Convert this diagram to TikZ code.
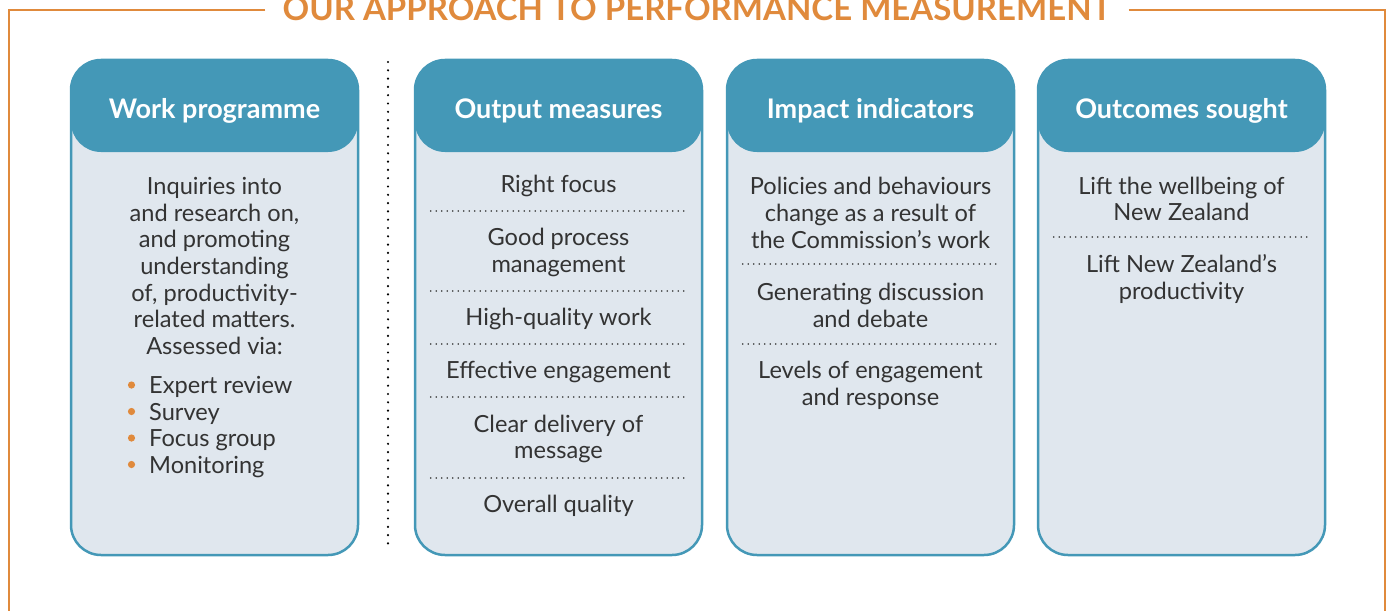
\documentclass[tikz,border=0pt]{standalone}
\usepackage{fontspec}
\setmainfont{Lato}
\usetikzlibrary{calc}

\definecolor{frameorange}{HTML}{E08A3C}
\definecolor{headteal}{HTML}{4498B7}
\definecolor{bodygrey}{HTML}{E0E7EE}
\definecolor{textgrey}{HTML}{333333}

\tikzset{
  frame/.style={draw=frameorange, line width=2pt},
  title/.style={text=frameorange, inner xsep=17pt, font=\fontsize{33}{36}\selectfont\bfseries},
  card/.style={draw=headteal, line width=2.5pt, fill=bodygrey, rounded corners=30pt,
    minimum width=287pt, minimum height=495pt, inner sep=0pt,
    path picture={\fill[headteal] (path picture bounding box.north west)
      rectangle ([yshift=-92pt]path picture bounding box.north east);}},
  head/.style={text=white, font=\fontsize{27}{30}\selectfont\bfseries},
  body/.style={text=textgrey, align=center, inner sep=0pt, font=\fontsize{23.6}{26.6}\selectfont},
  bullet/.style={fill=frameorange},
  sepline/.style={draw=textgrey, dash pattern=on 0pt off 5.5pt, line cap=round, line width=1.8pt},
  vdots/.style={draw=black, dash pattern=on 0pt off 8.3pt, line cap=round, line width=2.4pt}
}

\newcommand\sepat[2]{\draw[sepline] ($(#1.west |- 0,#2)+(17,0)$) -- ($(#1.east |- 0,#2)+(-19,0)$);}

\begin{document}
\begin{tikzpicture}[x=1pt, y=-1pt]
    \useasboundingbox (0,0) rectangle (1391,610);

    % Title and frame
    \node[title, anchor=base] (title) at (697,21) {OUR APPROACH TO PERFORMANCE MEASUREMENT};
    \draw[frame] (title.west |- 0,10) -- (9,10) -- (9,620);
    \draw[frame] (title.east |- 0,10) -- (1385,10) -- (1385,620);

    % Cards
    \node[card] (wp) at (214.5,307.5) {};
    \node[card] (om) at (558.5,307.5) {};
    \node[card] (ii) at (870.5,307.5) {};
    \node[card] (os) at (1181.5,307.5) {};

    % Card headings
    \node[head] (wphead) at (214.5,111) {Work programme};
    \node[head] (omhead) at (558.5,111) {Output measures};
    \node[head] (iihead) at (870.5,111) {Impact indicators};
    \node[head] (oshead) at (1181.5,111) {Outcomes sought};

    % Divider between work programme and measures
    \draw[vdots] (388,62) -- (388,550);

    % Work programme
    \node[body] (wptext) at (214.5,266) {Inquiries into\\and research on,\\and promoting\\understanding\\of, productivity-\\related matters.\\Assessed via:};
    \node[body, align=left, anchor=west] (wplist) at (149,427) {Expert review\\Survey\\Focus group\\Monitoring};
    \foreach \y in {385,411.5,438,464.5}
        \fill[bullet] (131.5,\y) circle (3.6pt);

    % Output measures
    \node[body] (om1) at (558.5,186) {Right focus};
    \sepat{om}{211}
    \node[body] (om2) at (558.5,252.5) {Good process\\management};
    \sepat{om}{291}
    \node[body] (om3) at (558.5,319) {High-quality work};
    \sepat{om}{344}
    \node[body] (om4) at (558.5,372) {Effective engagement};
    \sepat{om}{397}
    \node[body] (om5) at (558.5,439) {Clear delivery of\\message};
    \sepat{om}{478}
    \node[body] (om6) at (558.5,506) {Overall quality};

    % Impact indicators
    \node[body] (ii1) at (870.5,213) {Policies and behaviours\\change as a result of\\the Commission’s work};
    \sepat{ii}{264}
    \node[body] (ii2) at (870.5,305.5) {Generating discussion\\and debate};
    \sepat{ii}{344}
    \node[body] (ii3) at (870.5,385.5) {Levels of engagement\\and response};

    % Outcomes sought
    \node[body] (os1) at (1181.5,199) {Lift the wellbeing of\\New Zealand};
    \sepat{os}{237}
    \node[body] (os2) at (1181.5,279) {Lift New Zealand’s\\productivity};
\end{tikzpicture}
\end{document}
